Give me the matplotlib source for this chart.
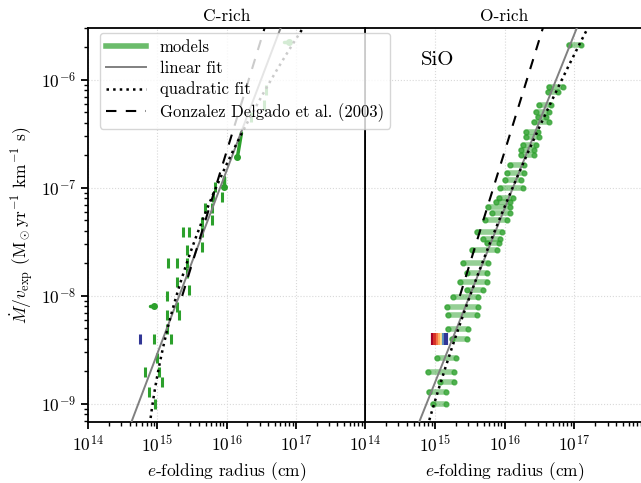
import matplotlib.pyplot as plt
import numpy as np

plt.rcParams['font.family'] = 'serif'
plt.rcParams['font.serif'] = ['cmr10']
plt.rcParams['mathtext.fontset'] = 'cm'
plt.rcParams['axes.formatter.use_mathtext'] = True
plt.rcParams['font.size'] = 12.5
plt.rcParams['axes.linewidth'] = 1.3
plt.rcParams['xtick.major.width'] = 1.3
plt.rcParams['ytick.major.width'] = 1.3
plt.rcParams['xtick.minor.width'] = 1.0
plt.rcParams['ytick.minor.width'] = 1.0
plt.rcParams['xtick.major.size'] = 5
plt.rcParams['ytick.major.size'] = 5
plt.rcParams['xtick.minor.size'] = 3
plt.rcParams['ytick.minor.size'] = 3

# O-rich models: log10(Mdot/v), log10 of radius range (cm)
o_logy = [-5.676, -6.065, -6.111, -6.231, -6.296, -6.343, -6.389, -6.481, -6.528,
          -6.602, -6.648, -6.694, -6.787, -6.861, -6.926, -7.000, -7.093, -7.130,
          -7.176, -7.231, -7.296, -7.407, -7.472, -7.509, -7.574, -7.694, -7.787,
          -7.870, -7.944, -8.009, -8.102, -8.176, -8.306, -8.398, -8.574, -8.704,
          -8.796, -8.889, -9.000]
o_lo = [16.921, 16.633, 16.619, 16.489, 16.446, 16.475, 16.417, 16.302, 16.302,
        16.259, 16.230, 16.230, 16.086, 16.043, 16.014, 15.942, 15.914, 15.871,
        15.770, 15.827, 15.727, 15.612, 15.698, 15.755, 15.540, 15.410, 15.468,
        15.367, 15.468, 15.266, 15.180, 15.194, 15.194, 15.252, 15.036, 14.906,
        15.079, 14.921, 14.978]
o_hi = [17.094, 16.835, 16.763, 16.662, 16.633, 16.590, 16.633, 16.475, 16.489,
        16.446, 16.417, 16.417, 16.273, 16.273, 16.230, 16.259, 16.129, 16.086,
        16.086, 16.086, 16.043, 15.971, 15.942, 15.914, 15.899, 15.770, 15.755,
        15.755, 15.698, 15.626, 15.626, 15.612, 15.482, 15.468, 15.309, 15.281,
        15.281, 15.165, 15.165]

# C-rich models (short marks)
c_logr = [15.137, 15.309, 15.281, 15.137, 14.950, 15.194, 14.993, 14.820, 15.022,
          15.065, 14.878, 14.964, 15.137, 15.453, 15.281, 15.424, 15.151, 15.281,
          15.424, 15.424, 15.640, 15.367, 15.453, 15.640, 15.640, 15.784, 15.683,
          15.784, 15.799, 15.942, 15.827, 16.547, 16.576, 16.360]
c_logy = [-8.176, -8.176, -8.102, -8.306, -8.398, -8.398, -8.574, -8.704, -8.704,
          -8.796, -8.889, -9.000, -8.000, -7.944, -7.870, -7.787, -7.694, -7.694,
          -7.694, -7.574, -7.546, -7.407, -7.407, -7.407, -7.315, -7.296, -7.185,
          -7.185, -7.083, -7.083, -6.991, -6.231, -6.093, -6.343]
# C-rich longer segments: (logr0, logr1, logy0, logy1)
c_seg = [(14.893, 14.950, -8.093, -8.093), (16.835, 16.906, -5.648, -5.648),
         (16.216, 16.158, -6.491, -6.713), (15.971, 15.971, -6.898, -6.991)]

# highlighted model (colour scale)
hl_logr = [14.98, 15.01, 15.04, 15.07, 15.10, 15.13, 15.16]
hl_val = [0.0, 0.1, 0.2, 0.3, 0.4, 0.85, 1.0]
hl_logy = -8.398
hl_c_logr = 14.748

# fits: log R = a + b*u + c*u^2, u = log(Mdot/v) + 7
lin_c = (20.042 - 7 * 0.5907, 0.5907, 0.0)
quad_c = (15.847, 0.6832, 0.1129)
lin_o = (20.457 - 7 * 0.6196, 0.6196, 0.0)
quad_o = (16.115, 0.658, 0.04785)
# Gonzalez Delgado et al. (2003): log R = 19.2 + 0.48 log(Mdot/v)
gd_a, gd_b = 19.2, 0.48

green = '#2ca02c'
fig = plt.figure(figsize=(6.41, 4.83), dpi=100)
ax0 = fig.add_axes([88 / 641, 61 / 483, 277 / 641, 394 / 483])
ax1 = fig.add_axes([365 / 641, 61 / 483, 279 / 641, 394 / 483], sharey=ax0)
ax0.set_zorder(2)
ax1.set_zorder(1)

u = np.linspace(-3.5, 2.5, 300)
ugd = np.linspace(-1.0, 2.5, 100)


def draw_fits(ax, lin, quad):
    ax.plot(10 ** (lin[0] + lin[1] * u), 10 ** (u - 7), color='0.5', lw=1.4, zorder=3)
    ax.plot(10 ** (quad[0] + quad[1] * u + quad[2] * u ** 2), 10 ** (u - 7),
            color='k', ls=':', lw=1.8, zorder=3)
    ax.plot(10 ** (gd_a + gd_b * (ugd - 7)), 10 ** (ugd - 7), color='k',
            ls=(0, (5, 4.5)), lw=1.5, zorder=3)


# right panel: O-rich
for y, lo, hi in zip(o_logy, o_lo, o_hi):
    ax1.plot([10 ** lo, 10 ** hi], [10 ** y] * 2, color=green, lw=4, alpha=0.5,
             solid_capstyle='round', zorder=2)
    ax1.plot([10 ** lo, 10 ** hi], [10 ** y] * 2, ls='none', marker='o', ms=3.5,
             color=green, alpha=0.65, zorder=2)
cmap = plt.cm.RdYlBu
for r, v in zip(hl_logr, hl_val):
    ax1.plot([10 ** r], [10 ** hl_logy], marker='|', ms=8, mew=3, color=cmap(v),
             zorder=2.5)
draw_fits(ax1, lin_o, quad_o)

# left panel: C-rich
ax0.plot(10 ** np.array(c_logr), 10 ** np.array(c_logy), ls='none', marker='|',
         ms=7, mew=2.2, color=green, zorder=2)
for r0, r1, y0, y1 in c_seg:
    ax0.plot([10 ** r0, 10 ** r1], [10 ** y0, 10 ** y1], color=green, lw=2.5,
             solid_capstyle='round', zorder=2)
    ax0.plot([10 ** r1], [10 ** y1], marker='o', ms=4, color=green, zorder=2)
ax0.plot([10 ** hl_c_logr], [10 ** hl_logy], marker='|', ms=7, mew=2.2,
         color=cmap(1.0), zorder=2)
draw_fits(ax0, lin_c, quad_c)

# legend handles
ax0.plot([], [], color=green, lw=4, alpha=0.7, label='models')
ax0.plot([], [], color='0.5', lw=1.4, label='linear fit')
ax0.plot([], [], color='k', ls=':', lw=1.8, label='quadratic fit')
ax0.plot([], [], color='k', ls=(0, (5, 4.5)), lw=1.5,
         label='Gonzalez Delgado et al. (2003)')
ax0.legend(loc='upper left', bbox_to_anchor=(0.042, 0.988), borderaxespad=0,
           fontsize=12, handlelength=2.4, labelspacing=0.35)

for ax, title in [(ax0, 'C-rich'), (ax1, 'O-rich')]:
    ax.set_xscale('log')
    ax.set_yscale('log')
    ax.set_xlim(1e14, 1e18)
    ax.set_xticks([1e14, 1e15, 1e16, 1e17])
    ax.set_title(title, fontsize=12.5, pad=5)
    ax.set_xlabel('$e$-folding radius (cm)')
    ax.grid(True, which='major', color='0.85', ls=':', lw=0.8)
    ax.set_axisbelow(True)
ax0.set_ylim(10 ** -9.167, 10 ** -5.52)
ax0.set_yticks([1e-9, 1e-8, 1e-7, 1e-6])
ax1.tick_params(axis='y', labelleft=False)
ax0.set_ylabel(r'$\dot{M}/v_{\rm exp}$ (M$_\odot$yr$^{-1}$ km$^{-1}$ s)')
ax1.text(10 ** 15.036, 10 ** -5.815, 'SiO', fontsize=15, ha='center', va='center')

fig.savefig('out.png', dpi=100)
